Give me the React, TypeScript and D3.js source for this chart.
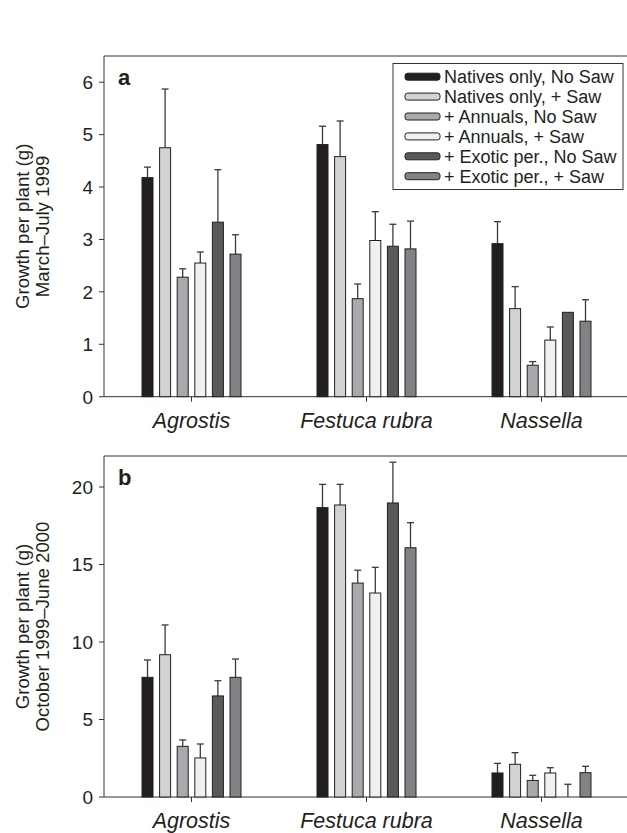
import React from "react";
import * as d3 from "d3";

const categories = ["Agrostis", "Festuca rubra", "Nassella"];
const seriesNames = [
  "Natives only, No Saw",
  "Natives only, + Saw",
  "+ Annuals, No Saw",
  "+ Annuals, + Saw",
  "+ Exotic per., No Saw",
  "+ Exotic per., + Saw",
];
const seriesColors = ["#231f20", "#d1d2d4", "#a7a9ac", "#eef0f1", "#58595b", "#808285"];

// Panel a: March–July 1999 (mean, upper error bar top)
const aMeans = [
  [4.18, 4.75, 2.28, 2.55, 3.33, 2.72],
  [4.81, 4.58, 1.87, 2.98, 2.87, 2.82],
  [2.92, 1.68, 0.6, 1.08, 1.61, 1.44],
];
const aErrTops = [
  [4.38, 5.87, 2.44, 2.76, 4.33, 3.09],
  [5.16, 5.26, 2.15, 3.53, 3.29, 3.35],
  [3.34, 2.1, 0.67, 1.33, 1.61, 1.85],
];
const aTicks = [0, 1, 2, 3, 4, 5, 6];

// Panel b: October 1999–June 2000
const bMeans = [
  [7.72, 9.18, 3.27, 2.52, 6.52, 7.72],
  [18.67, 18.84, 13.8, 13.16, 18.97, 16.08],
  [1.55, 2.11, 1.07, 1.55, 0, 1.57],
];
const bErrTops = [
  [8.84, 11.1, 3.68, 3.42, 7.5, 8.9],
  [20.17, 20.17, 14.63, 14.82, 21.6, 17.7],
  [2.17, 2.86, 1.4, 1.89, 0.82, 1.98],
];
const bTicks = [0, 5, 10, 15, 20];

const W = 627;
const H = 833;
const xLeft = 104;
const xRight = 629;
const FONT = "Liberation Sans, Arial, sans-serif";

type PanelProps = {
  top: number;
  bottom: number;
  maxY: number;
  means: number[][];
  errTops: number[][];
  ticks: number[];
  letter: string;
  title2: string;
  legend: boolean;
};

function Panel({ top, bottom, maxY, means, errTops, ticks, letter, title2, legend }: PanelProps) {
  const y = d3.scaleLinear().domain([0, maxY]).range([bottom, top]);
  const x0 = d3.scaleBand<string>().domain(categories).range([xLeft, xRight]).padding(0);
  const groupW = 105.6;
  const x1 = d3
    .scaleBand<string>()
    .domain(seriesNames)
    .range([0, groupW])
    .paddingInner(0.375)
    .paddingOuter(0.1875);
  const bw = x1.bandwidth();
  const midY = (top + bottom) / 2;
  const axisColor = "#333";

  return (
    <g>
      {/* frame: top line, left axis, bottom axis */}
      <line x1={xLeft} x2={W + 5} y1={top} y2={top} stroke={axisColor} strokeWidth={1} />
      <line x1={xLeft} x2={xLeft} y1={top} y2={bottom} stroke={axisColor} strokeWidth={1} />
      <line x1={xLeft} x2={W + 5} y1={bottom} y2={bottom} stroke={axisColor} strokeWidth={1} />

      {/* y ticks */}
      {ticks.map((t) => (
        <g key={t}>
          <line x1={xLeft - 5} x2={xLeft} y1={y(t)} y2={y(t)} stroke={axisColor} />
          <text
            x={xLeft - 11}
            y={y(t)}
            dy="0.36em"
            textAnchor="end"
            fontSize={19}
            fontFamily={FONT}
            fill="#231f20"
          >
            {t}
          </text>
        </g>
      ))}

      {/* y title */}
      <g transform={`translate(0,${midY}) rotate(-90)`}>
        <text x={0} y={28.5} textAnchor="middle" fontSize={18.6} fontFamily={FONT} fill="#231f20">
          Growth per plant (g)
        </text>
        <text x={0} y={48.5} textAnchor="middle" fontSize={18.6} fontFamily={FONT} fill="#231f20">
          {title2}
        </text>
      </g>

      {/* x ticks and labels */}
      {categories.map((c) => {
        const cx = (x0(c) as number) + x0.bandwidth() / 2;
        return (
          <g key={c}>
            <line x1={cx} x2={cx} y1={bottom} y2={bottom + 5} stroke={axisColor} />
            <text
              x={cx}
              y={bottom + 31}
              textAnchor="middle"
              fontSize={21.5}
              fontStyle="italic"
              fontFamily={FONT}
              fill="#231f20"
            >
              {c}
            </text>
          </g>
        );
      })}

      {/* bars */}
      {categories.map((c, ci) => {
        const cx = (x0(c) as number) + x0.bandwidth() / 2;
        const gx = cx - groupW / 2;
        return (
          <g key={c}>
            {seriesNames.map((s, si) => {
              const bx = gx + (x1(s) as number);
              const v = means[ci][si];
              const e = errTops[ci][si];
              const mid = bx + bw / 2;
              return (
                <g key={s}>
                  {e > v && (
                    <g stroke="#3a3a3a" strokeWidth={1.3}>
                      <line x1={mid} x2={mid} y1={y(v)} y2={y(e)} />
                      <line x1={mid - 3.5} x2={mid + 3.5} y1={y(e)} y2={y(e)} />
                    </g>
                  )}
                  {v > 0 && (
                    <rect
                      x={bx}
                      y={y(v)}
                      width={bw}
                      height={bottom - y(v)}
                      fill={seriesColors[si]}
                      stroke="#231f20"
                      strokeWidth={1}
                    />
                  )}
                </g>
              );
            })}
          </g>
        );
      })}

      {/* panel letter */}
      <text x={118} y={top + 29} fontSize={22} fontWeight="bold" fontFamily={FONT} fill="#231f20">
        {letter}
      </text>

      {legend && (
        <g>
          <rect x={393} y={63.5} width={230} height={126} fill="#fff" stroke="#333" strokeWidth={1} />
          {seriesNames.map((s, i) => {
            const ry = 76.7 + i * 19.9;
            return (
              <g key={s}>
                <rect
                  x={405}
                  y={ry - 3.5}
                  width={35}
                  height={7}
                  rx={2.5}
                  fill={seriesColors[i]}
                  stroke="#231f20"
                  strokeWidth={1}
                />
                <text
                  x={444}
                  y={ry}
                  dy="0.36em"
                  fontSize={18}
                  fontFamily={FONT}
                  fill="#231f20"
                >
                  {s}
                </text>
              </g>
            );
          })}
        </g>
      )}
    </g>
  );
}

export default function App() {
  return (
    <svg
      width={W}
      height={H}
      style={{ position: "absolute", left: 0, top: 0, background: "#fff" }}
    >
      <rect x={0} y={0} width={W} height={H} fill="#fff" />
      <Panel
        top={56}
        bottom={396.7}
        maxY={6.5}
        means={aMeans}
        errTops={aErrTops}
        ticks={aTicks}
        letter="a"
        title2="March–July 1999"
        legend={true}
      />
      <Panel
        top={456}
        bottom={797}
        maxY={22}
        means={bMeans}
        errTops={bErrTops}
        ticks={bTicks}
        letter="b"
        title2="October 1999–June 2000"
        legend={false}
      />
    </svg>
  );
}
